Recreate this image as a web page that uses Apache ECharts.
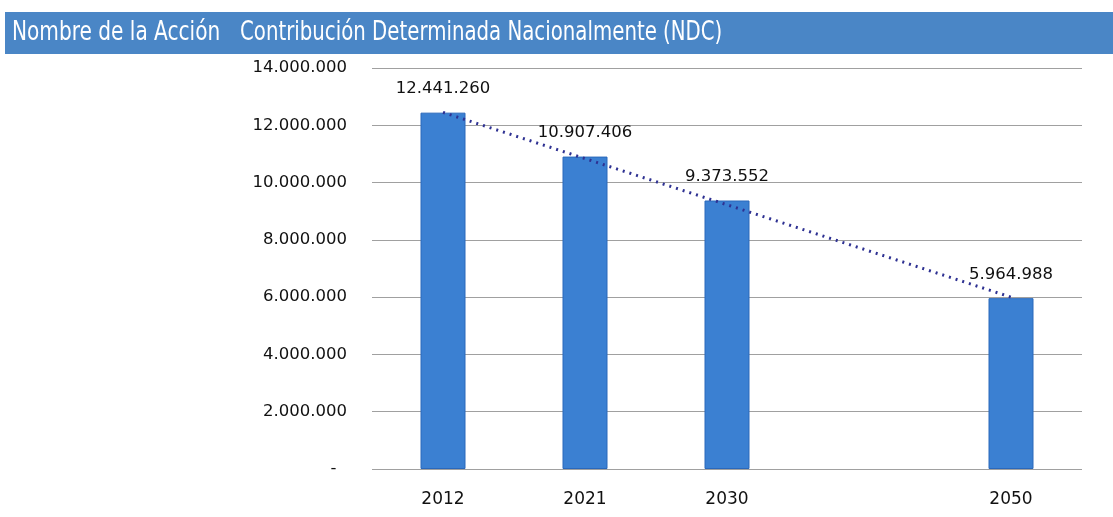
<!DOCTYPE html>
<html>
<head>
<meta charset="utf-8">
<script src="https://cdn.jsdelivr.net/npm/echarts@6/dist/echarts.min.js"></script>
<style>
html, body { margin: 0; padding: 0; background: #fff; }
#chart { width: 1113px; height: 517px; }
</style>
</head>
<body>
<div id="chart"></div>
<script>
// datos
var years = ['2012', '2021', '2030', '', '2050'];
var emisiones = [12441260, 10907406, 9373552, null, 5964988];
var tendencia = [12450000, null, null, null, 6000000];
var yTicks = [0, 2000000, 4000000, 6000000, 8000000, 10000000, 12000000, 14000000];

function fmtMiles(v) {
    if (v === 0) return '-  ';
    return String(v).replace(/\B(?=(\d{3})+(?!\d))/g, '.');
}

var fuente = 'DejaVu Sans, sans-serif';
var fuenteTitulo = '26px "DejaVu Sans Condensed", "DejaVu Sans", sans-serif';

var chart = echarts.init(document.getElementById('chart'));

var option = {
    backgroundColor: '#ffffff',
    animation: false,
    graphic: [
        {
            type: 'rect',
            shape: { x: 5, y: 12, width: 1108, height: 42 },
            style: { fill: '#4a86c6' }
        },
        {
            type: 'text',
            x: 12, y: 20,
            scaleX: 0.86,
            style: { text: 'Nombre de la Acción', fill: '#ffffff', font: fuenteTitulo }
        },
        {
            type: 'text',
            x: 240, y: 20,
            scaleX: 0.845,
            style: { text: 'Contribución Determinada Nacionalmente (NDC)', fill: '#ffffff', font: fuenteTitulo }
        }
    ],
    grid: { left: 372, right: 31, top: 68, bottom: 48 },
    xAxis: {
        type: 'category',
        data: years,
        axisLine: { show: false },
        axisTick: { show: false },
        axisLabel: {
            margin: 22,
            color: '#111',
            fontSize: 17,
            fontFamily: fuente
        }
    },
    yAxis: {
        type: 'value',
        min: 0,
        max: yTicks[yTicks.length - 1],
        interval: yTicks[1] - yTicks[0],
        axisLine: { show: false },
        axisTick: { show: false },
        splitLine: { lineStyle: { color: '#a0a0a0', width: 1 } },
        axisLabel: {
            margin: 25,
            color: '#111',
            fontSize: 16.5,
            fontFamily: fuente,
            formatter: fmtMiles
        }
    },
    series: [
        {
            type: 'bar',
            data: emisiones,
            barWidth: 45,
            itemStyle: { color: '#3b80d2', borderColor: '#2a68bb', borderWidth: 1 },
            label: {
                show: true,
                position: 'top',
                distance: 15,
                color: '#111',
                fontSize: 16.5,
                fontFamily: fuente,
                formatter: function (p) { return fmtMiles(p.value); }
            }
        },
        {
            type: 'line',
            data: tendencia,
            connectNulls: true,
            symbol: 'none',
            lineStyle: { color: '#2e3192', width: 3, type: [2, 5] },
            z: 3
        }
    ]
};

chart.setOption(option);
</script>
</body>
</html>
